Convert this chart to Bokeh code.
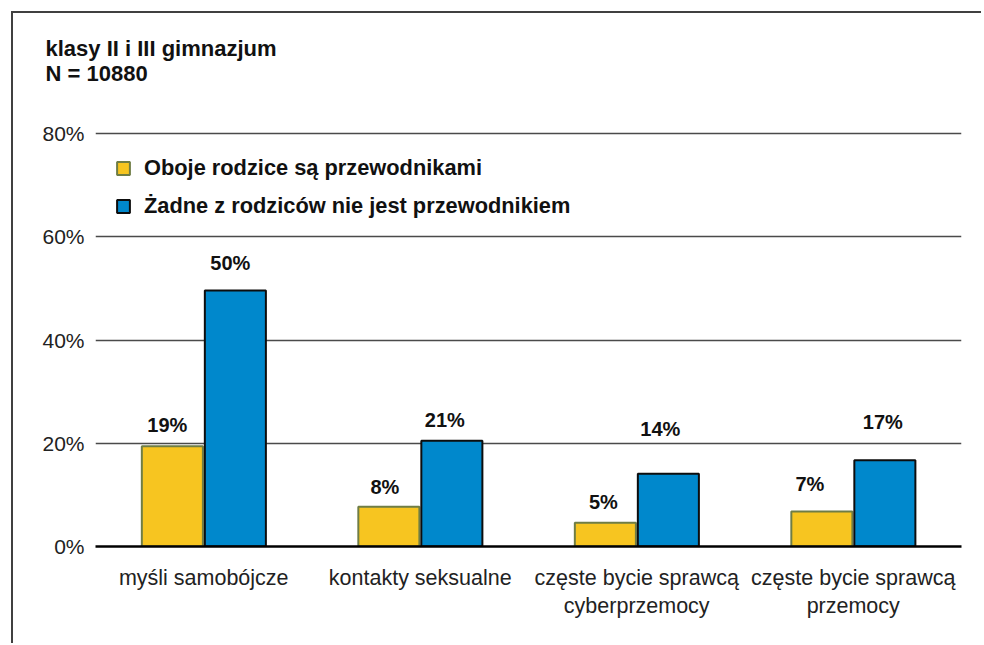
from bokeh.plotting import figure
from bokeh.models import (FactorRange, Range1d, FixedTicker, PrintfTickFormatter,
                          ColumnDataSource, Legend, LegendItem)
from bokeh.transform import dodge
from bokeh.core.properties import value
from bokeh.embed import file_html
from bokeh.resources import INLINE

categories = ["myśli samobójcze", "kontakty seksualne",
              "częste bycie sprawcą\ncyberprzemocy", "częste bycie sprawcą\nprzemocy"]
series_names = ["Oboje rodzice są przewodnikami", "Żadne z rodziców nie jest przewodnikiem"]
both_parents = [19.4, 7.7, 4.6, 6.8]
no_parent = [49.6, 20.5, 14.1, 16.7]
both_labels = ["19%", "8%", "5%", "7%"]
no_labels = ["50%", "21%", "14%", "17%"]
y_ticks = [0, 20, 40, 60, 80]
title_text = "klasy II i III gimnazjum\nN = 10880"

# label placement (pixels) -- layout only
both_dx = [-5, -4, -2, -12]
both_dy = [-21, -20, -21, -27]
no_dx = [-5, -7, -8, -2]
no_dy = [-27, -21, -45, -38]

FONT = "Liberation Sans"
YELLOW = "#F7C520"
YELLOW_LINE = "#6F7D45"
BLUE = "#0088CC"
BLUE_LINE = "#0D0D0D"

src = ColumnDataSource(dict(cat=categories, a=both_parents, b=no_parent,
                            la=both_labels, lb=no_labels,
                            adx=both_dx, ady=both_dy, bdx=no_dx, bdy=no_dy))

# frame extends a little above the 80% line so the title sits right above it
p = figure(x_range=FactorRange(*categories), y_range=Range1d(0, 86.4),
           width=970, height=632, output_backend="svg", toolbar_location=None,
           min_border_left=82, min_border_right=22, min_border_top=87, min_border_bottom=99,
           styles={"margin-left": "11px", "margin-top": "11px",
                   "border-left": "2px solid #404040", "border-top": "2px solid #404040"})
p.outline_line_color = None
p.background_fill_color = "white"
p.border_fill_color = "white"

# title
p.title.text = title_text
p.title.align = "left"
p.title.offset = -50
p.title.standoff = 29
p.title.text_font = FONT
p.title.text_font_style = "bold"
p.title.text_font_size = "22px"
p.title.text_line_height = 1.0
p.title.text_color = "#111111"

ra = p.vbar(x=dodge("cat", -0.145, range=p.x_range), top="a", width=0.282, source=src,
            fill_color=YELLOW, line_color=YELLOW_LINE, line_width=2)
rb = p.vbar(x=dodge("cat", 0.146, range=p.x_range), top="b", width=0.282, source=src,
            fill_color=BLUE, line_color=BLUE_LINE, line_width=2)

p.text(x=dodge("cat", -0.145, range=p.x_range), y="a", text="la", x_offset="adx", y_offset="ady",
       source=src, text_align="center", text_baseline="middle",
       text_font=value(FONT), text_font_style="bold", text_font_size="20px", text_color="#111111")
p.text(x=dodge("cat", 0.146, range=p.x_range), y="b", text="lb", x_offset="bdx", y_offset="bdy",
       source=src, text_align="center", text_baseline="middle",
       text_font=value(FONT), text_font_style="bold", text_font_size="20px", text_color="#111111")

# axes
p.yaxis.ticker = FixedTicker(ticks=y_ticks)
p.yaxis.formatter = PrintfTickFormatter(format="%d%%")
p.yaxis.axis_line_color = None
p.yaxis.major_tick_line_color = None
p.yaxis.major_tick_out = 0
p.yaxis.minor_tick_line_color = None
p.yaxis.major_label_standoff = 11
p.yaxis.major_label_text_font = FONT
p.yaxis.major_label_text_font_size = "21px"
p.yaxis.major_label_text_color = "#222222"

p.xaxis.axis_line_color = "#000000"
p.xaxis.axis_line_width = 2.5
p.xaxis.major_tick_line_color = None
p.xaxis.major_tick_out = 0
p.xaxis.minor_tick_line_color = None
p.xaxis.major_label_standoff = 19
p.xaxis.major_label_text_font = FONT
p.xaxis.major_label_text_font_size = "21.5px"
p.xaxis.major_label_text_color = "#222222"
p.xaxis.major_label_orientation = "horizontal"

p.xgrid.grid_line_color = None
p.ygrid.grid_line_color = "#4a4a4a"
p.ygrid.grid_line_width = 1.3

legend = Legend(items=[LegendItem(label=series_names[0], renderers=[ra]),
                       LegendItem(label=series_names[1], renderers=[rb])],
                location=(20, 327), orientation="vertical",
                label_text_font=FONT, label_text_font_style="bold", label_text_font_size="21.8px",
                label_text_color="#111111", glyph_width=16, glyph_height=16,
                label_standoff=13, label_height=23, spacing=12, padding=0, margin=0,
                border_line_color=None, background_fill_alpha=0)
p.add_layout(legend)

open("out.html", "w").write(file_html(p, INLINE))
